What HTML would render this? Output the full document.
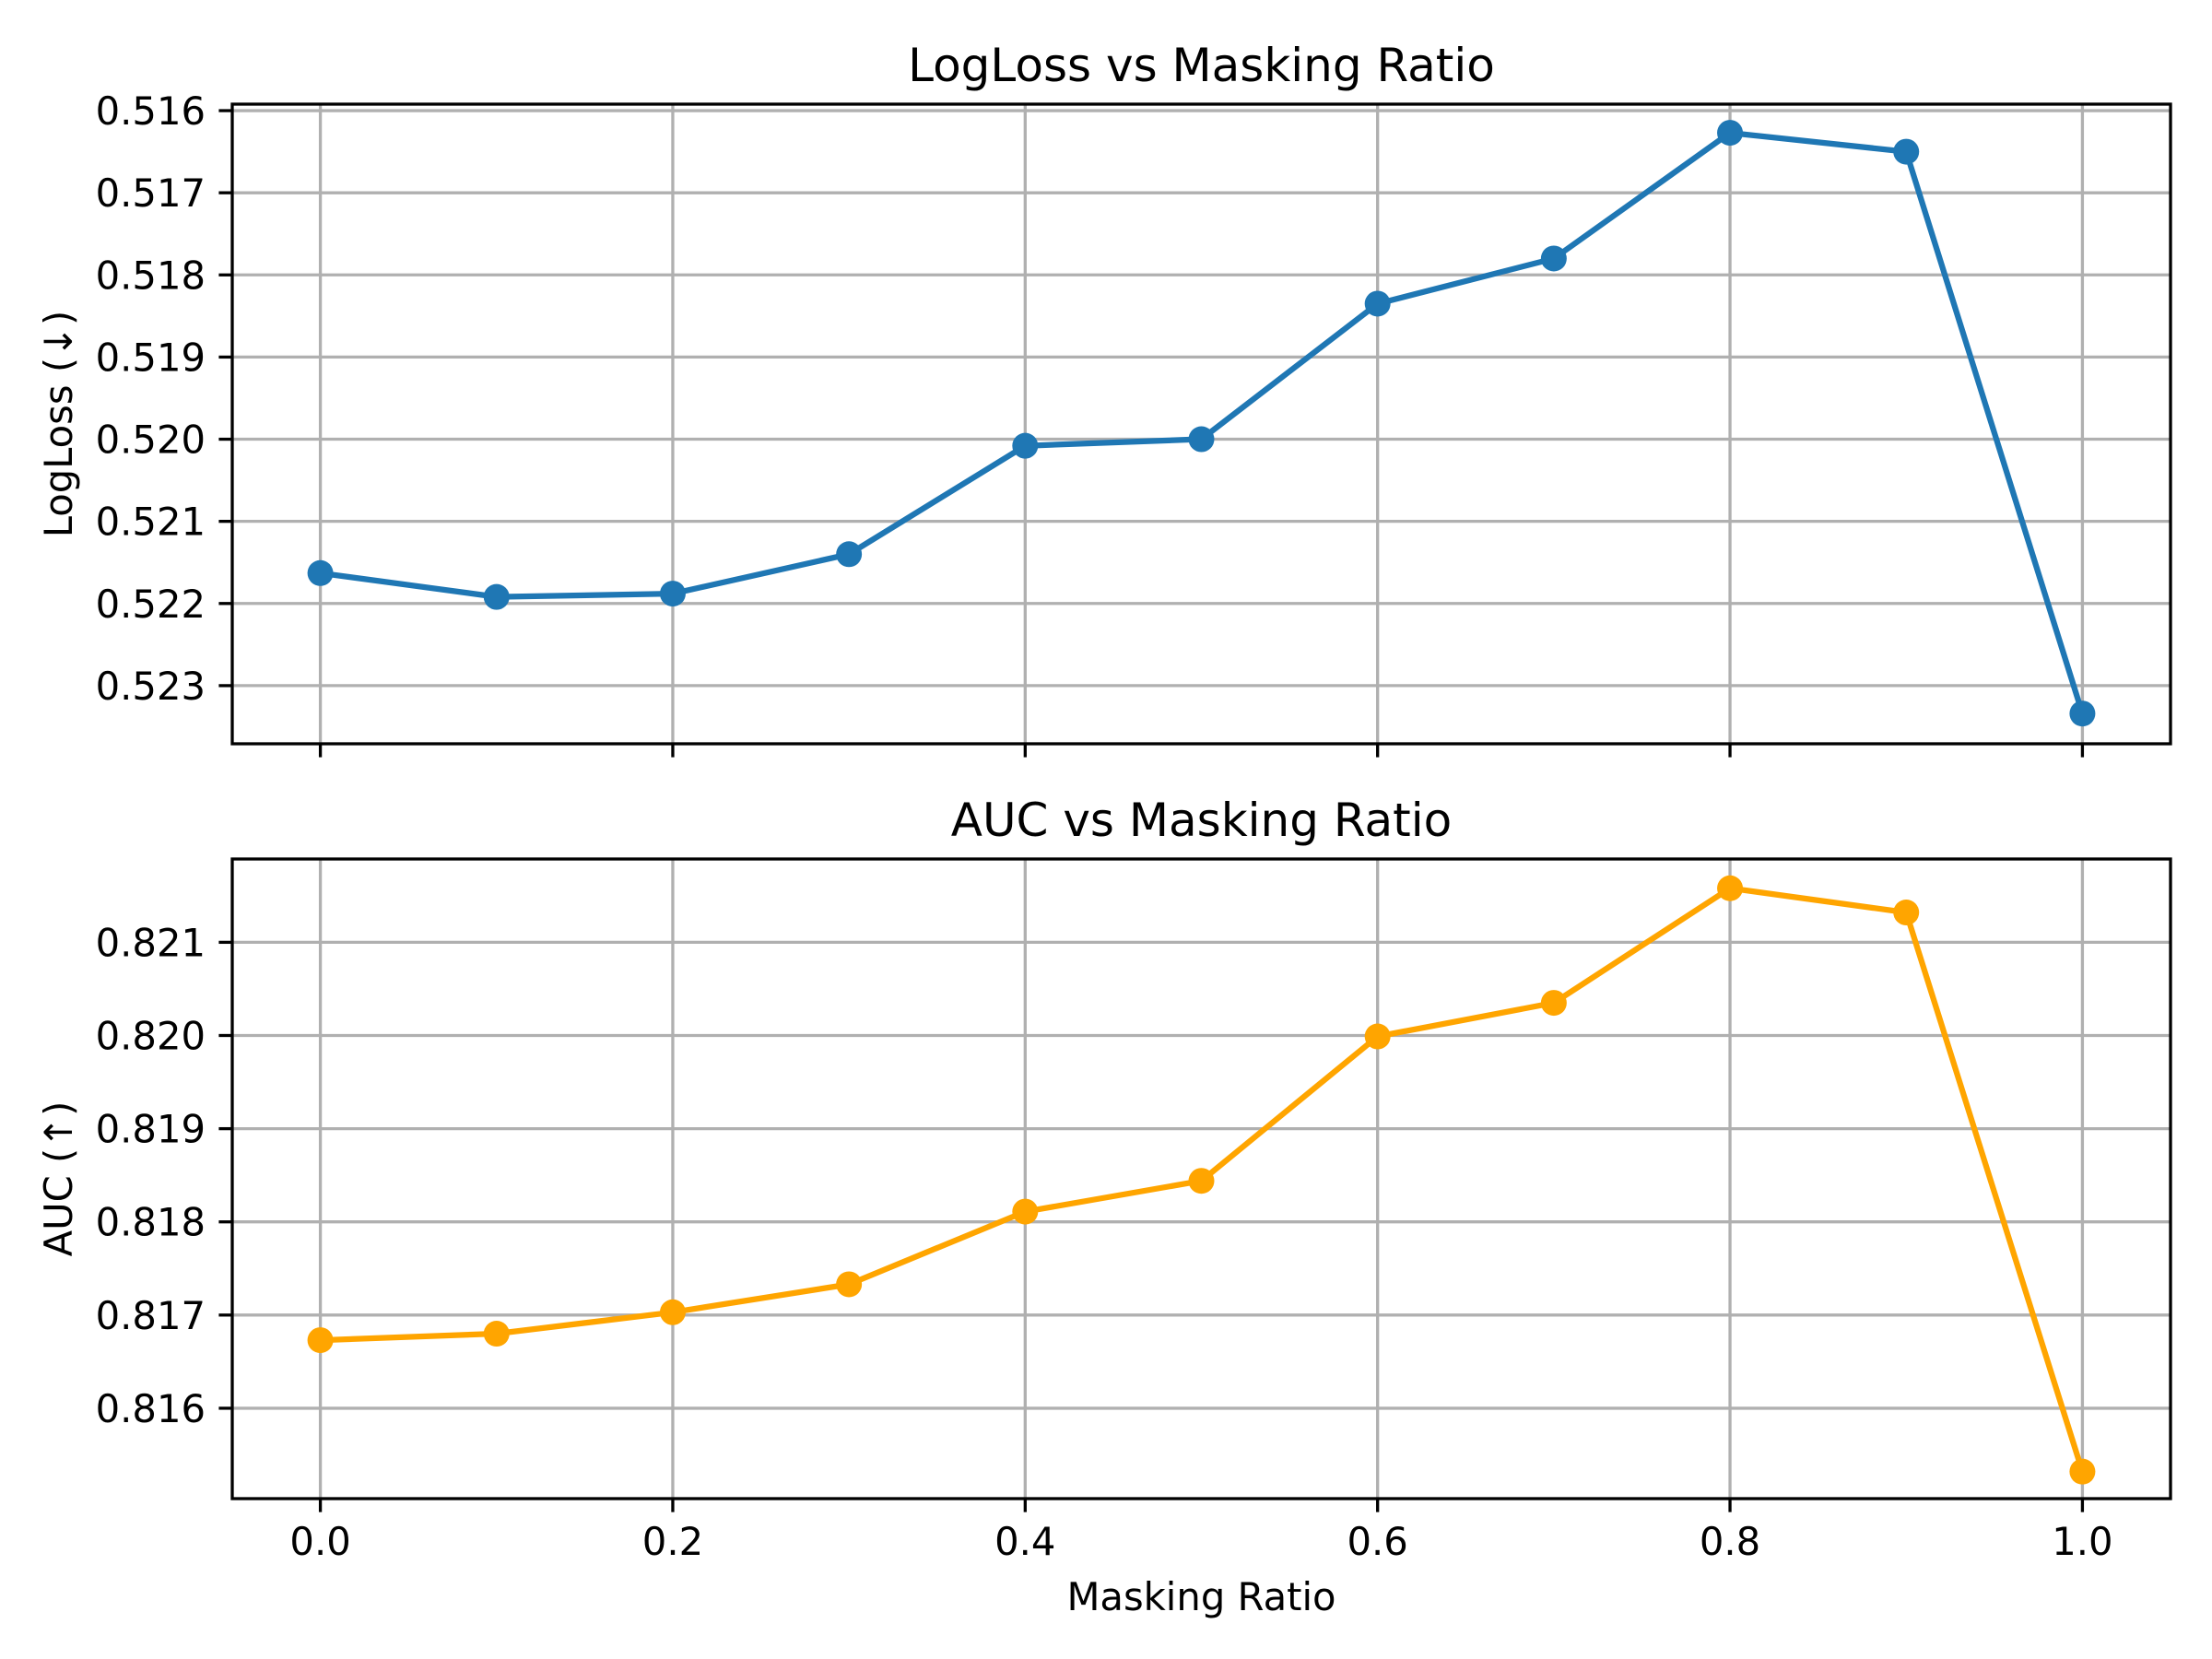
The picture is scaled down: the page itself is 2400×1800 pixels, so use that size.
<!DOCTYPE html>
<html><head><meta charset="utf-8"><style>
html,body{margin:0;padding:0;background:#fff;}
svg{display:block;font-family:"DejaVu Sans","Liberation Sans",sans-serif;}
</style></head><body>
<svg id="fig" width="2400" height="1800" viewBox="0 0 2400 1800" xmlns="http://www.w3.org/2000/svg"></svg>
<script>
const maskRatios = [0.0,0.1,0.2,0.3,0.4,0.5,0.6,0.7,0.8,0.9,1.0];
const loglossValues = [0.52163,0.52192,0.52188,0.52140,0.52008,0.52000,0.51835,0.51780,0.51627,0.51650,0.52334];
const aucValues = [0.81673,0.81680,0.81703,0.81733,0.81811,0.81844,0.81999,0.82035,0.82158,0.82132,0.81532];
const xTicks = [0.0,0.2,0.4,0.6,0.8,1.0];
const xTickLabels = ["0.0","0.2","0.4","0.6","0.8","1.0"];
const loglossTicks = [0.516,0.517,0.518,0.519,0.520,0.521,0.522,0.523];
const loglossTickLabels = ["0.516","0.517","0.518","0.519","0.520","0.521","0.522","0.523"];
const aucTicks = [0.816,0.817,0.818,0.819,0.820,0.821];
const aucTickLabels = ["0.816","0.817","0.818","0.819","0.820","0.821"];

const NS="http://www.w3.org/2000/svg";
const svg=document.getElementById('fig');
function mk(tag,attrs,parent){const e=document.createElementNS(NS,tag);for(const k in attrs)e.setAttribute(k,attrs[k]);(parent||svg).appendChild(e);return e;}

const L=252,R=2355;
const xMin=-0.05,xMax=1.05;
function xS(v){return L+(v-xMin)/(xMax-xMin)*(R-L);}

function panel(cfg){
  const g=mk('g',{});
  
  
  const T=cfg.top,B=cfg.bottom;
  function yS(v){return cfg.inverted ? T+(v-cfg.yTop)/(cfg.yBot-cfg.yTop)*(B-T) : T+(cfg.yTop-v)/(cfg.yTop-cfg.yBot)*(B-T);}
  xTicks.forEach(t=>{const l=mk('line',{x1:xS(t),x2:xS(t),y1:T,y2:B,stroke:'#b0b0b0','stroke-width':3.3},g);
    
    });
  cfg.ticks.forEach(t=>{const l=mk('line',{x1:L,x2:R,y1:yS(t),y2:yS(t),stroke:'#b0b0b0','stroke-width':3.3},g);
    
    });
  const pts=maskRatios.map((x,i)=>xS(x).toFixed(1)+','+yS(cfg.values[i]).toFixed(1)).join(' ');
  const pl=mk('polyline',{points:pts,fill:'none',stroke:cfg.color,'stroke-width':6.25,'stroke-linejoin':'round','stroke-linecap':'square'},g);
  
  
  maskRatios.forEach((x,i)=>{const c=mk('circle',{cx:xS(x),cy:yS(cfg.values[i]),r:14,fill:cfg.color},g);
    
    });
  const sp=mk('rect',{x:L,y:T,width:R-L,height:B-T,fill:'none',stroke:'#000','stroke-width':3.3},g);
  
  
  xTicks.forEach((t,i)=>{const l=mk('line',{x1:xS(t),x2:xS(t),y1:B,y2:B+14.6,stroke:'#000','stroke-width':3.3},g);
    
    
    if(cfg.showXLabels){const tx=mk('text',{x:xS(t),y:B+61,'font-size':41.7,'text-anchor':'middle',fill:'#000'},g);tx.textContent=xTickLabels[i];
      
      }
  });
  cfg.ticks.forEach((t,i)=>{const y=yS(t);const l=mk('line',{x1:L-14.6,x2:L,y1:y,y2:y,stroke:'#000','stroke-width':3.3},g);
    
    
    const tx=mk('text',{x:L-29,y:y+15,'font-size':41.7,'text-anchor':'end',fill:'#000'},g);tx.textContent=cfg.tickLabels[i];
    
    });
  const ti=mk('text',{x:(L+R)/2,y:T-25,'font-size':50,'text-anchor':'middle',fill:'#000'},g);ti.textContent=cfg.title;
  
  
  const yl=mk('text',{x:0,y:0,'font-size':41.7,'text-anchor':'middle',fill:'#000',transform:'translate(78,'+((T+B)/2)+') rotate(-90)'},g);yl.textContent=cfg.ylabel;
  
  
}

panel({name:'logloss-panel',seriesName:'logloss',top:113,bottom:807,yTop:0.515921,yBot:0.523708,inverted:true,
  ticks:loglossTicks,tickLabels:loglossTickLabels,values:loglossValues,color:'#1f77b4',title:'LogLoss vs Masking Ratio',ylabel:'LogLoss (\u2193)',showXLabels:false});
panel({name:'auc-panel',seriesName:'auc',top:932,bottom:1626,yTop:0.821894,yBot:0.81503,inverted:false,
  ticks:aucTicks,tickLabels:aucTickLabels,values:aucValues,color:'#ffa500',title:'AUC vs Masking Ratio',ylabel:'AUC (\u2191)',showXLabels:true});

const xl=mk('text',{x:(L+R)/2,y:1747,'font-size':41.7,'text-anchor':'middle',fill:'#000'});xl.textContent='Masking Ratio';


</script>
</body></html>
